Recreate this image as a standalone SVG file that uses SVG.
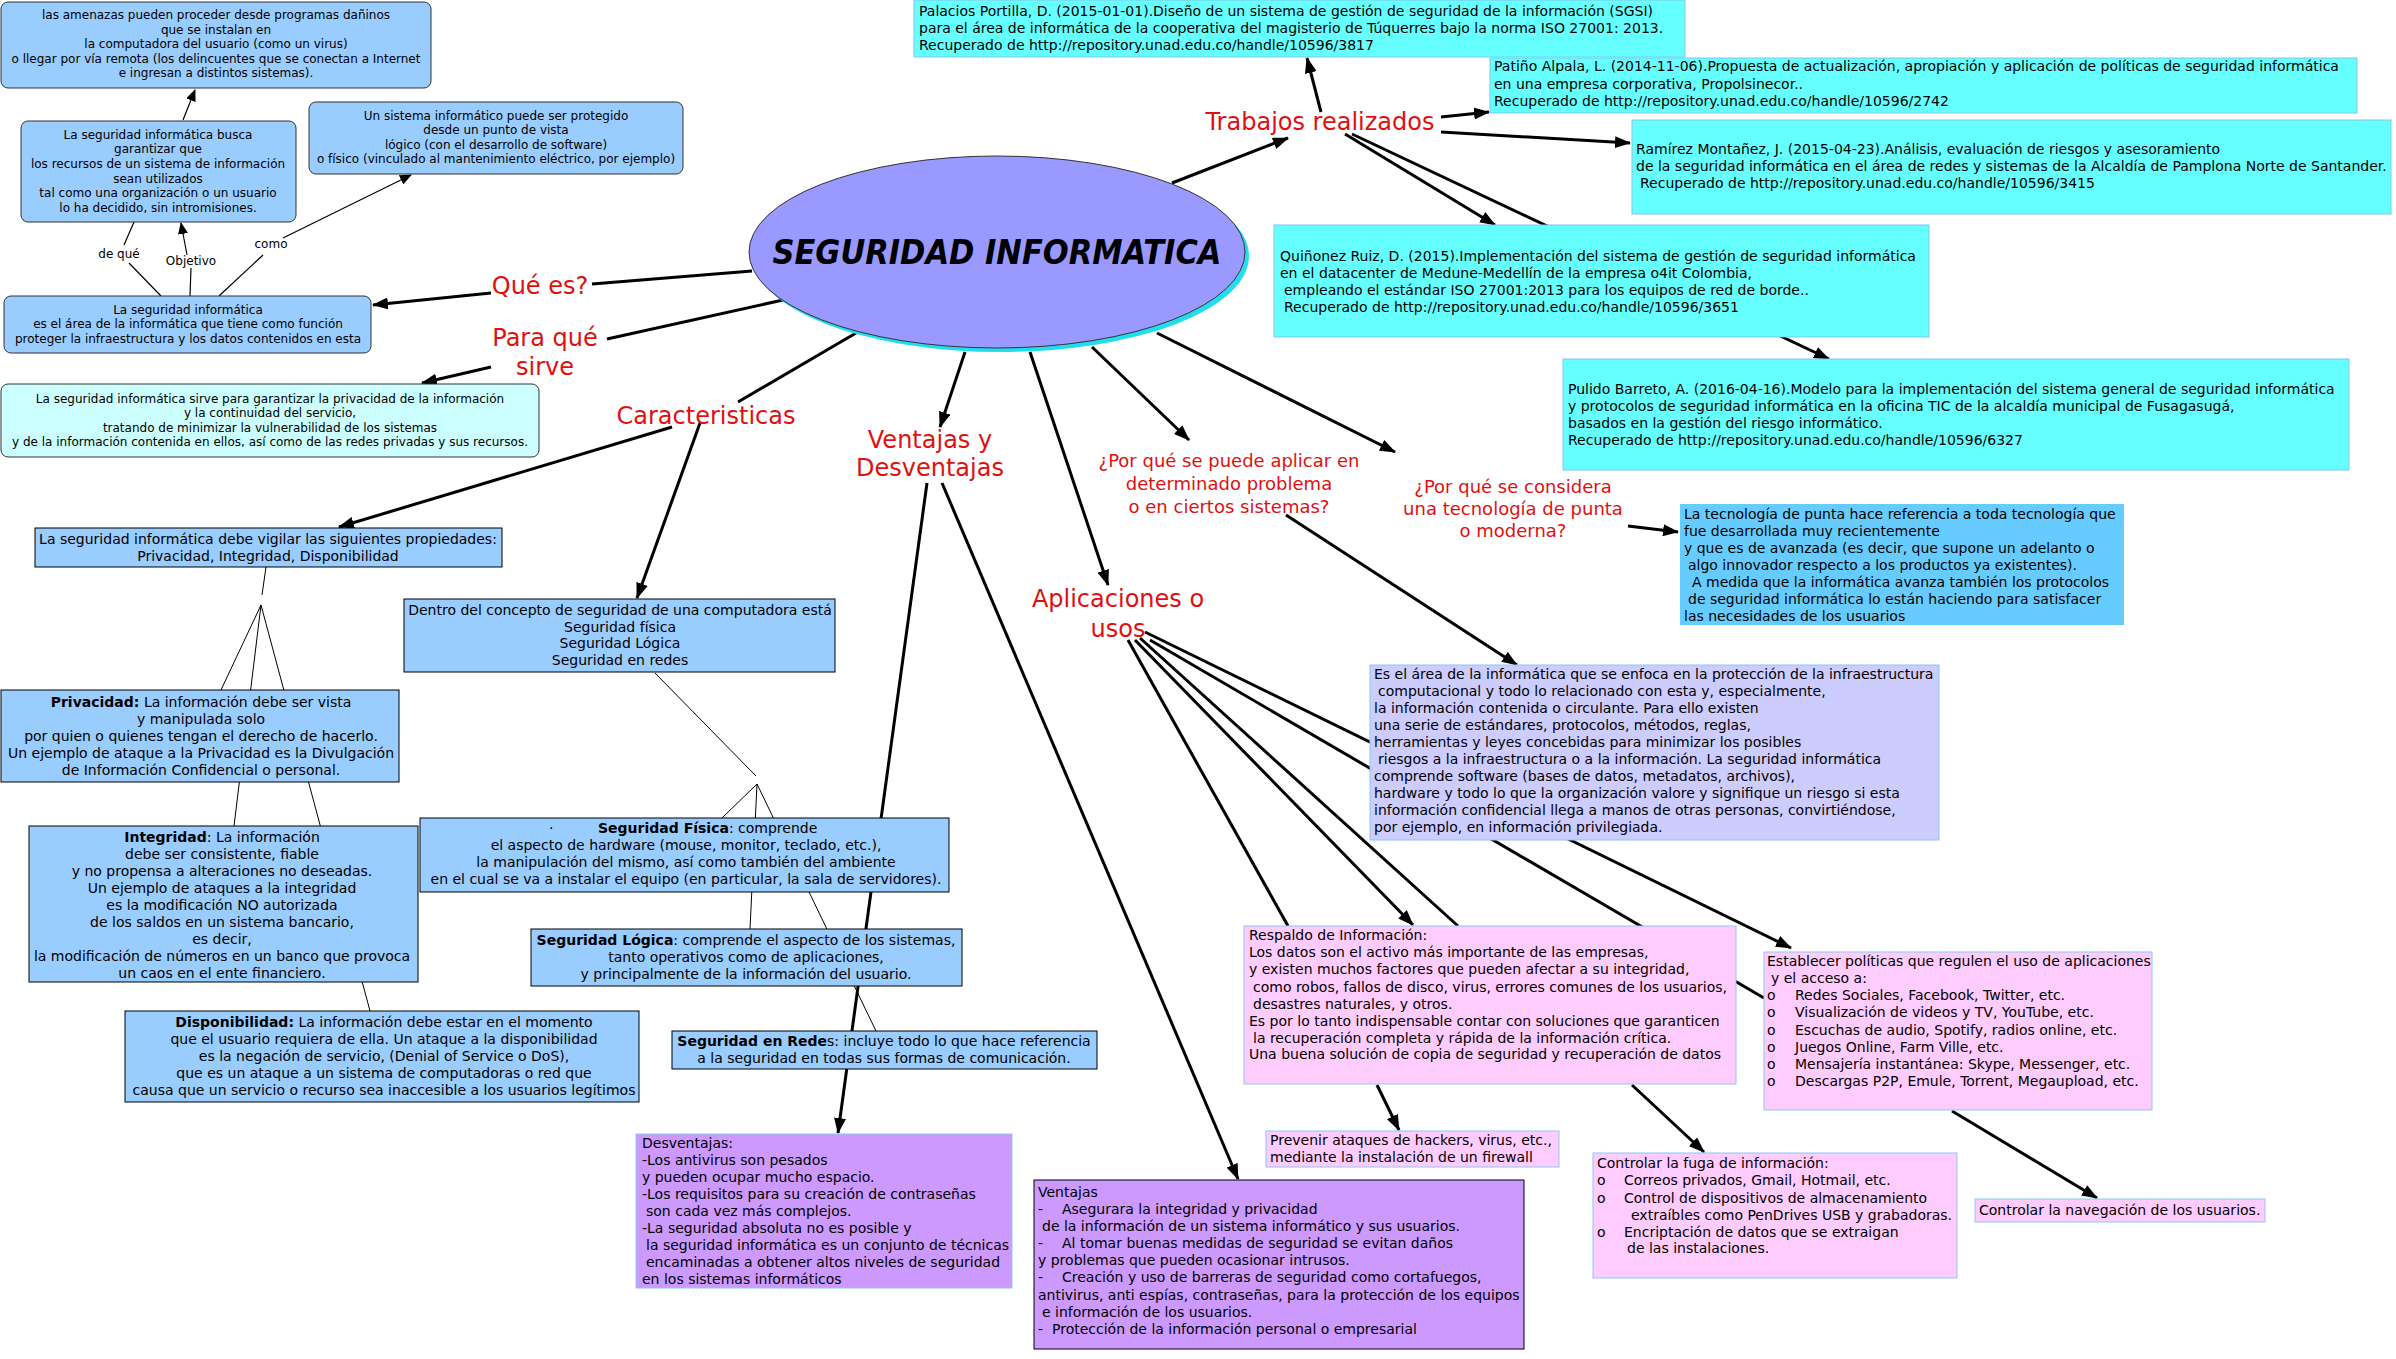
<svg xmlns="http://www.w3.org/2000/svg" width="2396" height="1359" viewBox="0 0 2396 1359">
<style>
text { font-family: "DejaVu Sans", Verdana, sans-serif; fill: #000; }
.s11 { font-size: 12px; }
.s13 { font-size: 14px; }
.c { text-anchor: middle; }
.b { font-weight: bold; }
.red { font-size: 24px; fill: #E01010; text-anchor: middle; }
.red2 { font-size: 18px; fill: #E01010; text-anchor: middle; }
.thick { stroke: #000; stroke-width: 3; fill: none; }
.thin { stroke: #000; stroke-width: 1; fill: none; }
.med { stroke: #000; stroke-width: 1.2; fill: none; }
.rb { fill: #99CCFF; stroke: #333; stroke-width: 1; }
.sq { fill: #99CCFF; stroke: #000; stroke-width: 1; }
.ref { fill: #66FFFF; stroke: #7FC8F0; stroke-width: 1; }
.pink { fill: #FFCCFF; stroke: #8CC8F0; stroke-width: 1; }
</style>
<defs>
<marker id="ah" viewBox="0 0 16 12" markerUnits="userSpaceOnUse" markerWidth="16" markerHeight="12" refX="15" refY="6" orient="auto">
<path d="M0,0 L16,6 L0,12 z" fill="#000"/>
</marker>
<marker id="as" viewBox="0 0 12 10" markerUnits="userSpaceOnUse" markerWidth="12" markerHeight="10" refX="11" refY="5" orient="auto">
<path d="M0,0 L12,5 L0,10 z" fill="#000"/>
</marker>
</defs>
<rect width="2396" height="1359" fill="#fff"/>

<g id="connectors">
<line class="med" x1="161" y1="296" x2="129" y2="263"/>
<line class="med" x1="124" y1="245" x2="134" y2="222"/>
<line class="med" x1="190" y1="296" x2="191" y2="268"/>
<line class="med" x1="187" y1="255" x2="181" y2="223" marker-end="url(#as)"/>
<line class="med" x1="219" y1="296" x2="263" y2="255"/>
<line class="med" x1="283" y1="238" x2="411" y2="175" marker-end="url(#as)"/>
<line class="med" x1="183" y1="120" x2="195" y2="90" marker-end="url(#as)"/>
<line class="thin" x1="266" y1="567" x2="262" y2="595"/>
<line class="thin" x1="261" y1="605" x2="221" y2="690"/>
<line class="thin" x1="261" y1="605" x2="234" y2="826"/>
<line class="thin" x1="261" y1="605" x2="370" y2="1011"/>
<line class="thin" x1="655" y1="673" x2="756" y2="776"/>
<line class="thin" x1="757" y1="784" x2="722" y2="818"/>
<line class="thin" x1="757" y1="784" x2="750" y2="929"/>
<line class="thin" x1="757" y1="784" x2="876" y2="1031"/>
<line class="thick" x1="1172" y1="183" x2="1288" y2="138" marker-end="url(#ah)"/>
<line class="thick" x1="1321" y1="112" x2="1307" y2="58" marker-end="url(#ah)"/>
<line class="thick" x1="1441" y1="117" x2="1489" y2="112" marker-end="url(#ah)"/>
<line class="thick" x1="1441" y1="132" x2="1630" y2="143" marker-end="url(#ah)"/>
<line class="thick" x1="1345" y1="134" x2="1495" y2="225" marker-end="url(#ah)"/>
<line class="thick" x1="1352" y1="134" x2="1829" y2="359" marker-end="url(#ah)"/>
<line class="thick" x1="752" y1="271" x2="592" y2="284"/>
<line class="thick" x1="491" y1="293" x2="373" y2="305" marker-end="url(#ah)"/>
<line class="thick" x1="783" y1="300" x2="607" y2="339"/>
<line class="thick" x1="491" y1="367" x2="422" y2="383" marker-end="url(#ah)"/>
<line class="thick" x1="856" y1="333" x2="738" y2="402"/>
<line class="thick" x1="672" y1="427" x2="339" y2="527" marker-end="url(#ah)"/>
<line class="thick" x1="700" y1="423" x2="637" y2="598" marker-end="url(#ah)"/>
<line class="thick" x1="965" y1="352" x2="940" y2="427" marker-end="url(#ah)"/>
<line class="thick" x1="927" y1="483" x2="838" y2="1133" marker-end="url(#ah)"/>
<line class="thick" x1="942" y1="483" x2="1238" y2="1179" marker-end="url(#ah)"/>
<line class="thick" x1="1030" y1="352" x2="1108" y2="585" marker-end="url(#ah)"/>
<line class="thick" x1="1092" y1="347" x2="1189" y2="440" marker-end="url(#ah)"/>
<line class="thick" x1="1157" y1="333" x2="1395" y2="452" marker-end="url(#ah)"/>
<line class="thick" x1="1286" y1="515" x2="1517" y2="665" marker-end="url(#ah)"/>
<line class="thick" x1="1628" y1="526" x2="1678" y2="532" marker-end="url(#ah)"/>
<line class="thick" x1="1128" y1="640" x2="1288" y2="926"/>
<line class="thick" x1="1135" y1="640" x2="1413" y2="925" marker-end="url(#ah)"/>
<line class="thick" x1="1140" y1="638" x2="1458" y2="926"/>
<line class="thick" x1="1145" y1="632" x2="1791" y2="948" marker-end="url(#ah)"/>
<line class="thick" x1="1150" y1="640" x2="1764" y2="998"/>
<line class="thick" x1="1377" y1="1085" x2="1399" y2="1130" marker-end="url(#ah)"/>
<line class="thick" x1="1632" y1="1085" x2="1704" y2="1152" marker-end="url(#ah)"/>
<line class="thick" x1="1952" y1="1111" x2="2097" y2="1198" marker-end="url(#ah)"/>
</g>

<g id="labels">
<text class="s11 c" x="119" y="258">de qué</text>
<text class="s11 c" x="191" y="265">Objetivo</text>
<text class="s11 c" x="271" y="248">como</text>
</g>

<g id="central">
<ellipse cx="1001" cy="256" rx="248" ry="96" fill="#22DDEE"/>
<ellipse cx="997" cy="252" rx="248" ry="96" fill="#9999FF" stroke="#333" stroke-width="1"/>
<text x="997" y="264" text-anchor="middle" font-size="33" font-style="italic" font-weight="bold" textLength="449" lengthAdjust="spacingAndGlyphs">SEGURIDAD INFORMATICA</text>
</g>

<g id="red-labels">
<text class="red" x="1320" y="130">Trabajos realizados</text>
<text class="red" x="540" y="294">Qué es?</text>
<text class="red" x="545" y="346">Para qué</text>
<text class="red" x="545" y="375">sirve</text>
<text class="red" x="706" y="424">Caracteristicas</text>
<text class="red" x="930" y="448">Ventajas y</text>
<text class="red" x="930" y="476">Desventajas</text>
<text class="red" x="1118" y="607">Aplicaciones o</text>
<text class="red" x="1118" y="637">usos</text>
<text class="red2" x="1229" y="467">¿Por qué se puede aplicar en</text>
<text class="red2" x="1229" y="490">determinado problema</text>
<text class="red2" x="1229" y="513">o en ciertos sistemas?</text>
<text class="red2" x="1513" y="493">¿Por qué se considera</text>
<text class="red2" x="1513" y="515">una tecnología de punta</text>
<text class="red2" x="1513" y="537">o moderna?</text>
</g>

<g id="n-amenazas">
<rect class="rb" x="1" y="2" width="430" height="86" rx="7"/>
<text class="s11 c" x="216" y="19">las amenazas pueden proceder desde programas dañinos</text>
<text class="s11 c" x="216" y="34">que se instalan en</text>
<text class="s11 c" x="216" y="48">la computadora del usuario (como un virus)</text>
<text class="s11 c" x="216" y="63">o llegar por vía remota (los delincuentes que se conectan a Internet</text>
<text class="s11 c" x="216" y="77">e ingresan a distintos sistemas).</text>
</g>

<g id="n-busca">
<rect class="rb" x="21" y="121" width="275" height="101" rx="7"/>
<text class="s11 c" x="158" y="139">La seguridad informática busca</text>
<text class="s11 c" x="158" y="153">garantizar que</text>
<text class="s11 c" x="158" y="168">los recursos de un sistema de información</text>
<text class="s11 c" x="158" y="183">sean utilizados</text>
<text class="s11 c" x="158" y="197">tal como una organización o un usuario</text>
<text class="s11 c" x="158" y="212">lo ha decidido, sin intromisiones.</text>
</g>

<g id="n-protegido">
<rect class="rb" x="309" y="102" width="374" height="72" rx="7"/>
<text class="s11 c" x="496" y="120">Un sistema informático puede ser protegido</text>
<text class="s11 c" x="496" y="134">desde un punto de vista</text>
<text class="s11 c" x="496" y="149">lógico (con el desarrollo de software)</text>
<text class="s11 c" x="496" y="163">o físico (vinculado al mantenimiento eléctrico, por ejemplo)</text>
</g>

<g id="n-area">
<rect class="rb" x="4" y="296" width="367" height="57" rx="7"/>
<text class="s11 c" x="188" y="314">La seguridad informática</text>
<text class="s11 c" x="188" y="328">es el área de la informática que tiene como función</text>
<text class="s11 c" x="188" y="343">proteger la infraestructura y los datos contenidos en esta</text>
</g>

<g id="n-sirve">
<rect x="1" y="384" width="538" height="73" rx="7" fill="#CCFFFF" stroke="#333" stroke-width="1"/>
<text class="s11 c" x="270" y="403">La seguridad informática sirve para garantizar la privacidad de la información</text>
<text class="s11 c" x="270" y="417">y la continuidad del servicio,</text>
<text class="s11 c" x="270" y="432">tratando de minimizar la vulnerabilidad de los sistemas</text>
<text class="s11 c" x="270" y="446">y de la información contenida en ellos, así como de las redes privadas y sus recursos.</text>
</g>

<g id="n-propiedades">
<rect class="sq" x="35" y="528" width="467" height="39"/>
<text class="s13 c" x="268" y="544">La seguridad informática debe vigilar las siguientes propiedades:</text>
<text class="s13 c" x="268" y="561">Privacidad, Integridad, Disponibilidad</text>
</g>

<g id="n-privacidad">
<rect class="sq" x="1" y="690" width="398" height="92"/>
<text class="s13 c" x="201" y="707"><tspan class="b">Privacidad:</tspan> La información debe ser vista</text>
<text class="s13 c" x="201" y="724">y manipulada solo</text>
<text class="s13 c" x="201" y="741">por quien o quienes tengan el derecho de hacerlo.</text>
<text class="s13 c" x="201" y="758">Un ejemplo de ataque a la Privacidad es la Divulgación</text>
<text class="s13 c" x="201" y="775">de Información Confidencial o personal.</text>
</g>

<g id="n-integridad">
<rect class="sq" x="29" y="826" width="389" height="156"/>
<text class="s13 c" x="222" y="842"><tspan class="b">Integridad</tspan>: La información</text>
<text class="s13 c" x="222" y="859">debe ser consistente, fiable</text>
<text class="s13 c" x="222" y="876">y no propensa a alteraciones no deseadas.</text>
<text class="s13 c" x="222" y="893">Un ejemplo de ataques a la integridad</text>
<text class="s13 c" x="222" y="910">es la modificación NO autorizada</text>
<text class="s13 c" x="222" y="927">de los saldos en un sistema bancario,</text>
<text class="s13 c" x="222" y="944">es decir,</text>
<text class="s13 c" x="222" y="961">la modificación de números en un banco que provoca</text>
<text class="s13 c" x="222" y="978">un caos en el ente financiero.</text>
</g>

<g id="n-disponibilidad">
<rect class="sq" x="125" y="1011" width="514" height="91"/>
<text class="s13 c" x="384" y="1027"><tspan class="b">Disponibilidad:</tspan> La información debe estar en el momento</text>
<text class="s13 c" x="384" y="1044">que el usuario requiera de ella. Un ataque a la disponibilidad</text>
<text class="s13 c" x="384" y="1061">es la negación de servicio, (Denial of Service o DoS),</text>
<text class="s13 c" x="384" y="1078">que es un ataque a un sistema de computadoras o red que</text>
<text class="s13 c" x="384" y="1095">causa que un servicio o recurso sea inaccesible a los usuarios legítimos</text>
</g>

<g id="n-dentro">
<rect class="sq" x="404" y="599" width="431" height="73"/>
<text class="s13 c" x="620" y="615">Dentro del concepto de seguridad de una computadora está</text>
<text class="s13 c" x="620" y="632">Seguridad física</text>
<text class="s13 c" x="620" y="648">Seguridad Lógica</text>
<text class="s13 c" x="620" y="665">Seguridad en redes</text>
</g>

<g id="n-fisica">
<rect class="sq" x="420" y="818" width="529" height="74"/>
<text class="s13" x="549" y="833">·</text>
<text class="s13" x="598" y="833"><tspan class="b">Seguridad Física</tspan>: comprende</text>
<text class="s13 c" x="686" y="850">el aspecto de hardware (mouse, monitor, teclado, etc.),</text>
<text class="s13 c" x="686" y="867">la manipulación del mismo, así como también del ambiente</text>
<text class="s13 c" x="686" y="884">en el cual se va a instalar el equipo (en particular, la sala de servidores).</text>
</g>

<g id="n-logica">
<rect class="sq" x="531" y="929" width="431" height="57"/>
<text class="s13 c" x="746" y="945"><tspan class="b">Seguridad Lógica</tspan>: comprende el aspecto de los sistemas,</text>
<text class="s13 c" x="746" y="962">tanto operativos como de aplicaciones,</text>
<text class="s13 c" x="746" y="979">y principalmente de la información del usuario.</text>
</g>

<g id="n-redes">
<rect class="sq" x="672" y="1031" width="425" height="38"/>
<text class="s13 c" x="884" y="1046"><tspan class="b">Seguridad en Rede</tspan>s: incluye todo lo que hace referencia</text>
<text class="s13 c" x="884" y="1063">a la seguridad en todas sus formas de comunicación.</text>
</g>

<g id="n-desventajas">
<rect x="636" y="1134" width="376" height="154" fill="#CC99FF" stroke="#8CC8F0" stroke-width="1"/>
<text class="s13" x="642" y="1148">Desventajas:</text>
<text class="s13" x="642" y="1165">-Los antivirus son pesados</text>
<text class="s13" x="642" y="1182">y pueden ocupar mucho espacio.</text>
<text class="s13" x="642" y="1199">-Los requisitos para su creación de contraseñas</text>
<text class="s13" x="646" y="1216">son cada vez más complejos.</text>
<text class="s13" x="642" y="1233">-La seguridad absoluta no es posible y</text>
<text class="s13" x="646" y="1250">la seguridad informática es un conjunto de técnicas</text>
<text class="s13" x="646" y="1267">encaminadas a obtener altos niveles de seguridad</text>
<text class="s13" x="642" y="1284">en los sistemas informáticos</text>
</g>

<g id="n-ventajas">
<rect x="1034" y="1180" width="490" height="169" fill="#CC99FF" stroke="#000" stroke-width="1"/>
<text class="s13" x="1038" y="1197">Ventajas</text>
<text class="s13" x="1038" y="1214">-</text><text class="s13" x="1062" y="1214">Asegurara la integridad y privacidad</text>
<text class="s13" x="1042" y="1231">de la información de un sistema informático y sus usuarios.</text>
<text class="s13" x="1038" y="1248">-</text><text class="s13" x="1062" y="1248">Al tomar buenas medidas de seguridad se evitan daños</text>
<text class="s13" x="1038" y="1265">y problemas que pueden ocasionar intrusos.</text>
<text class="s13" x="1038" y="1282">-</text><text class="s13" x="1062" y="1282">Creación y uso de barreras de seguridad como cortafuegos,</text>
<text class="s13" x="1038" y="1300">antivirus, anti espías, contraseñas, para la protección de los equipos</text>
<text class="s13" x="1042" y="1317">e información de los usuarios.</text>
<text class="s13" x="1038" y="1334">-</text><text class="s13" x="1052" y="1334">Protección de la información personal o empresarial</text>
</g>

<g id="n-ref1">
<rect class="ref" x="914" y="0" width="771" height="57"/>
<text class="s13" x="919" y="16">Palacios Portilla, D. (2015-01-01).Diseño de un sistema de gestión de seguridad de la información (SGSI)</text>
<text class="s13" x="919" y="33">para el área de informática de la cooperativa del magisterio de Túquerres bajo la norma ISO 27001: 2013.</text>
<text class="s13" x="919" y="50">Recuperado de http://repository.unad.edu.co/handle/10596/3817</text>
</g>

<g id="n-ref2">
<rect class="ref" x="1490" y="58" width="867" height="55"/>
<text class="s13" x="1494" y="71">Patiño Alpala, L. (2014-11-06).Propuesta de actualización, apropiación y aplicación de políticas de seguridad informática</text>
<text class="s13" x="1494" y="89">en una empresa corporativa, Propolsinecor..</text>
<text class="s13" x="1494" y="106">Recuperado de http://repository.unad.edu.co/handle/10596/2742</text>
</g>

<g id="n-ref3">
<rect class="ref" x="1632" y="120" width="759" height="94"/>
<text class="s13" x="1636" y="154">Ramírez Montañez, J. (2015-04-23).Análisis, evaluación de riesgos y asesoramiento</text>
<text class="s13" x="1636" y="171">de la seguridad informática en el área de redes y sistemas de la Alcaldía de Pamplona Norte de Santander.</text>
<text class="s13" x="1640" y="188">Recuperado de http://repository.unad.edu.co/handle/10596/3415</text>
</g>

<g id="n-ref4">
<rect class="ref" x="1274" y="225" width="655" height="112"/>
<text class="s13" x="1280" y="261">Quiñonez Ruiz, D. (2015).Implementación del sistema de gestión de seguridad informática</text>
<text class="s13" x="1280" y="278">en el datacenter de Medune-Medellín de la empresa o4it Colombia,</text>
<text class="s13" x="1284" y="295">empleando el estándar ISO 27001:2013 para los equipos de red de borde..</text>
<text class="s13" x="1284" y="312">Recuperado de http://repository.unad.edu.co/handle/10596/3651</text>
</g>

<g id="n-ref5">
<rect class="ref" x="1563" y="359" width="786" height="111"/>
<text class="s13" x="1568" y="394">Pulido Barreto, A. (2016-04-16).Modelo para la implementación del sistema general de seguridad informática</text>
<text class="s13" x="1568" y="411">y protocolos de seguridad informática en la oficina TIC de la alcaldía municipal de Fusagasugá,</text>
<text class="s13" x="1568" y="428">basados en la gestión del riesgo informático.</text>
<text class="s13" x="1568" y="445">Recuperado de http://repository.unad.edu.co/handle/10596/6327</text>
</g>

<g id="n-tecnologia">
<rect x="1680" y="504" width="444" height="121" fill="#66CCFF"/>
<text class="s13" x="1684" y="519">La tecnología de punta hace referencia a toda tecnología que</text>
<text class="s13" x="1684" y="536">fue desarrollada muy recientemente</text>
<text class="s13" x="1684" y="553">y que es de avanzada (es decir, que supone un adelanto o</text>
<text class="s13" x="1688" y="570">algo innovador respecto a los productos ya existentes).</text>
<text class="s13" x="1692" y="587">A medida que la informática avanza también los protocolos</text>
<text class="s13" x="1688" y="604">de seguridad informática lo están haciendo para satisfacer</text>
<text class="s13" x="1684" y="621">las necesidades de los usuarios</text>
</g>

<g id="n-esarea">
<rect x="1370" y="665" width="569" height="175" fill="#CCCCFF" stroke="#8CC8F0" stroke-width="1"/>
<text class="s13" x="1374" y="679">Es el área de la informática que se enfoca en la protección de la infraestructura</text>
<text class="s13" x="1378" y="696">computacional y todo lo relacionado con esta y, especialmente,</text>
<text class="s13" x="1374" y="713">la información contenida o circulante. Para ello existen</text>
<text class="s13" x="1374" y="730">una serie de estándares, protocolos, métodos, reglas,</text>
<text class="s13" x="1374" y="747">herramientas y leyes concebidas para minimizar los posibles</text>
<text class="s13" x="1378" y="764">riesgos a la infraestructura o a la información. La seguridad informática</text>
<text class="s13" x="1374" y="781">comprende software (bases de datos, metadatos, archivos),</text>
<text class="s13" x="1374" y="798">hardware y todo lo que la organización valore y signifique un riesgo si esta</text>
<text class="s13" x="1374" y="815">información confidencial llega a manos de otras personas, convirtiéndose,</text>
<text class="s13" x="1374" y="832">por ejemplo, en información privilegiada.</text>
</g>

<g id="n-respaldo">
<rect class="pink" x="1244" y="926" width="492" height="158"/>
<text class="s13" x="1249" y="940">Respaldo de Información:</text>
<text class="s13" x="1249" y="957">Los datos son el activo más importante de las empresas,</text>
<text class="s13" x="1249" y="974">y existen muchos factores que pueden afectar a su integridad,</text>
<text class="s13" x="1253" y="992">como robos, fallos de disco, virus, errores comunes de los usuarios,</text>
<text class="s13" x="1253" y="1009">desastres naturales, y otros.</text>
<text class="s13" x="1249" y="1026">Es por lo tanto indispensable contar con soluciones que garanticen</text>
<text class="s13" x="1253" y="1043">la recuperación completa y rápida de la información crítica.</text>
<text class="s13" x="1249" y="1059">Una buena solución de copia de seguridad y recuperación de datos</text>
</g>

<g id="n-establecer">
<rect class="pink" x="1764" y="952" width="388" height="158"/>
<text class="s13" x="1767" y="966">Establecer políticas que regulen el uso de aplicaciones</text>
<text class="s13" x="1771" y="983">y el acceso a:</text>
<text class="s13" x="1767" y="1000">o</text><text class="s13" x="1795" y="1000">Redes Sociales, Facebook, Twitter, etc.</text>
<text class="s13" x="1767" y="1017">o</text><text class="s13" x="1795" y="1017">Visualización de videos y TV, YouTube, etc.</text>
<text class="s13" x="1767" y="1035">o</text><text class="s13" x="1795" y="1035">Escuchas de audio, Spotify, radios online, etc.</text>
<text class="s13" x="1767" y="1052">o</text><text class="s13" x="1795" y="1052">Juegos Online, Farm Ville, etc.</text>
<text class="s13" x="1767" y="1069">o</text><text class="s13" x="1795" y="1069">Mensajería instantánea: Skype, Messenger, etc.</text>
<text class="s13" x="1767" y="1086">o</text><text class="s13" x="1795" y="1086">Descargas P2P, Emule, Torrent, Megaupload, etc.</text>
</g>

<g id="n-prevenir">
<rect class="pink" x="1266" y="1131" width="293" height="36"/>
<text class="s13" x="1270" y="1145">Prevenir ataques de hackers, virus, etc.,</text>
<text class="s13" x="1270" y="1162">mediante la instalación de un firewall</text>
</g>

<g id="n-fuga">
<rect class="pink" x="1593" y="1153" width="364" height="125"/>
<text class="s13" x="1597" y="1168">Controlar la fuga de información:</text>
<text class="s13" x="1597" y="1185">o</text><text class="s13" x="1624" y="1185">Correos privados, Gmail, Hotmail, etc.</text>
<text class="s13" x="1597" y="1203">o</text><text class="s13" x="1624" y="1203">Control de dispositivos de almacenamiento</text>
<text class="s13" x="1631" y="1220">extraíbles como PenDrives USB y grabadoras.</text>
<text class="s13" x="1597" y="1237">o</text><text class="s13" x="1624" y="1237">Encriptación de datos que se extraigan</text>
<text class="s13" x="1627" y="1253">de las instalaciones.</text>
</g>

<g id="n-navegacion">
<rect class="pink" x="1975" y="1199" width="290" height="23"/>
<text class="s13" x="1979" y="1215">Controlar la navegación de los usuarios.</text>
</g>
</svg>
